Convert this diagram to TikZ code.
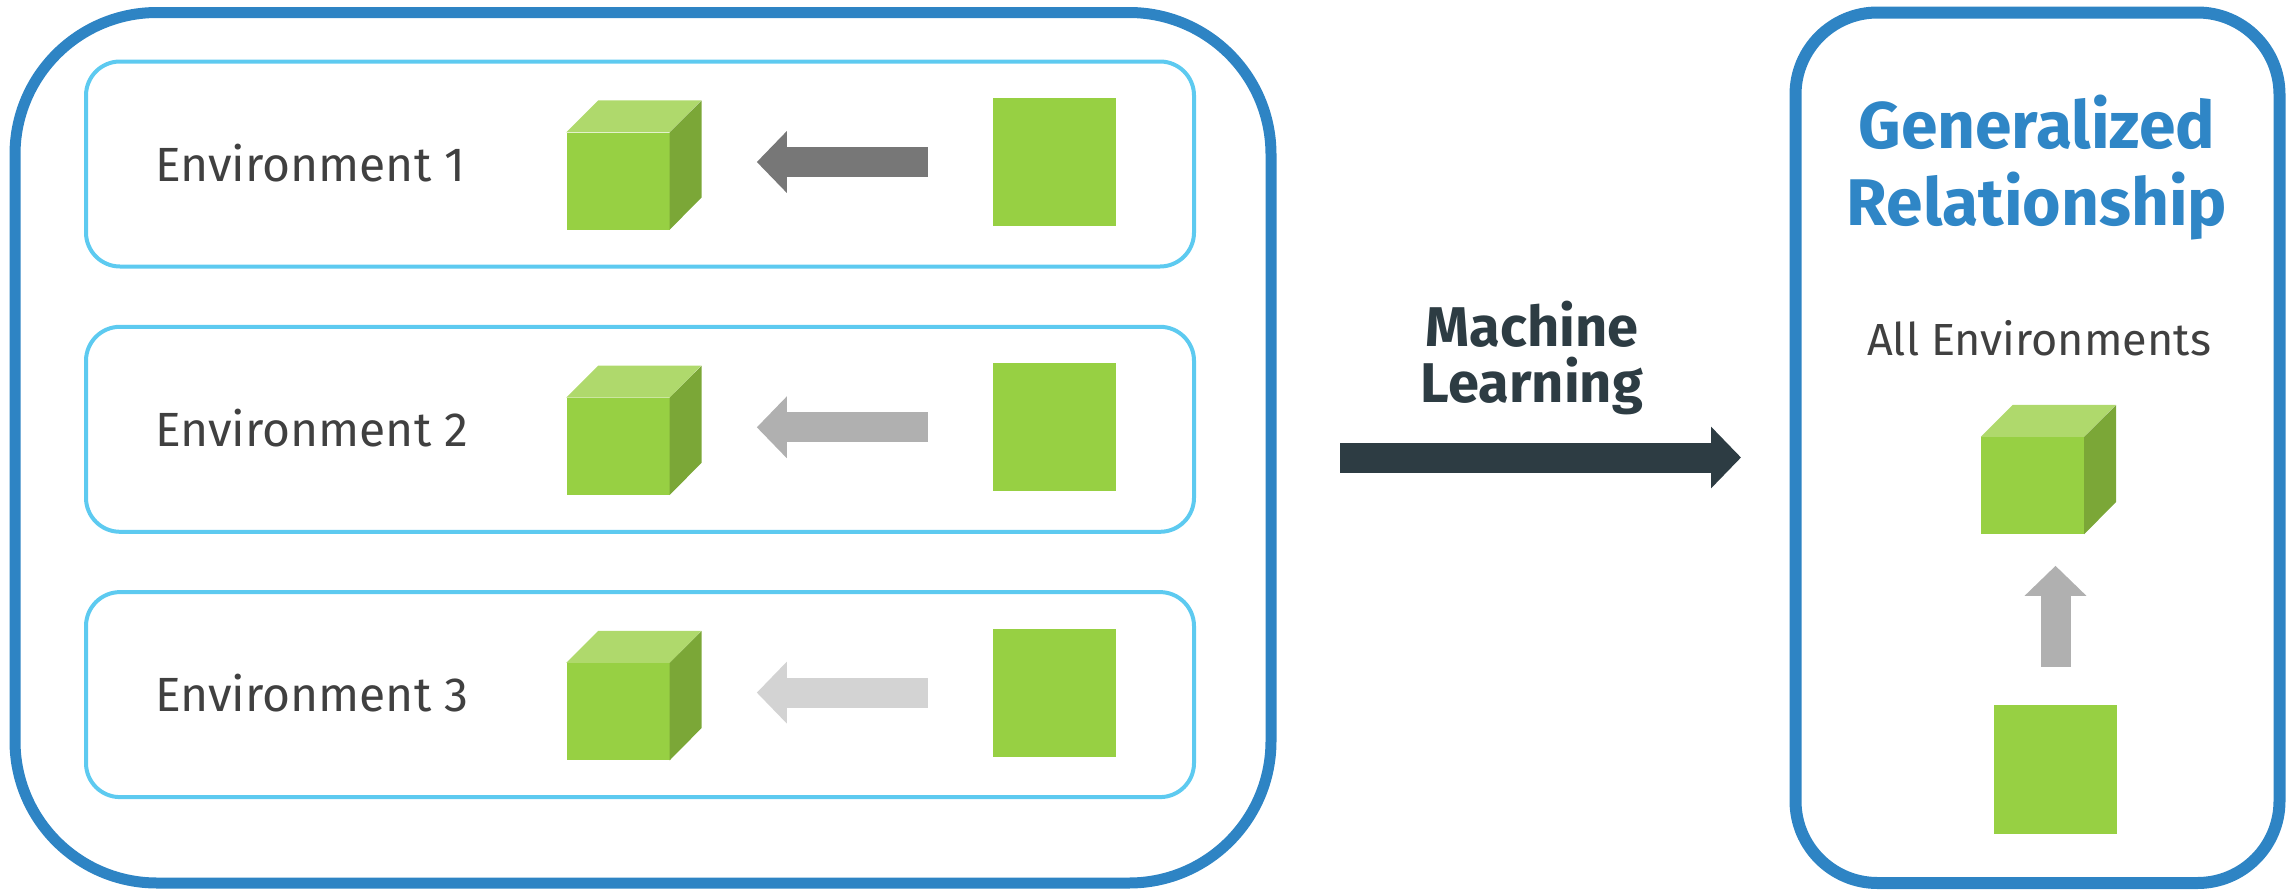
\documentclass[tikz,border=0pt]{standalone}
\usepackage{fontspec}
\setmainfont{Fira Sans}
\usetikzlibrary{arrows.meta,calc}
\definecolor{outerblue}{HTML}{2E84C4}
\definecolor{envblue}{HTML}{5DCAF0}
\definecolor{gfront}{HTML}{97D043}
\definecolor{gtop}{HTML}{AFD96C}
\definecolor{gside}{HTML}{7BA737}
\definecolor{arrA}{HTML}{777777}
\definecolor{arrB}{HTML}{B0B0B0}
\definecolor{arrC}{HTML}{D3D3D3}
\definecolor{slate}{HTML}{2D3C43}
\definecolor{txtgray}{HTML}{404040}
\definecolor{titleblue}{HTML}{2F86C6}
\begin{document}
\begin{tikzpicture}[x=1pt,y=-1pt,
  bigbox/.style={draw=outerblue, line width=11pt, inner sep=0pt, minimum height=870.5pt},
  envbox/.style={draw=envblue, line width=4pt, rounded corners=34pt, inner sep=0pt, minimum width=1108pt, minimum height=205pt},
  front/.style={fill=gfront, inner sep=0pt, minimum width=103pt, minimum height=97pt},
  sqbox/.style={fill=gfront, inner sep=0pt, minimum width=123pt, minimum height=128pt},
  blockarrow/.style={line width=30pt, -{Triangle[length=30pt,width=60pt]}},
  envtext/.style={anchor=base west, inner sep=0pt, text=txtgray, font=\fontsize{48}{58}\selectfont}
]
\path[use as bounding box] (0,0) rectangle (2292,889);

% containers
\node[bigbox, rounded corners=142pt, minimum width=1256pt] (left) at (643,447.75) {};
\node[bigbox, line width=12pt, rounded corners=82pt, minimum width=484pt] (right) at (2037.5,447.75) {};

% environment rows
\foreach \k/\c/\col in {1/164/arrA, 2/429.3/arrB, 3/694.6/arrC}{
  \node[envbox] (env\k) at (640,\c) {};
  \node[envtext] (lab\k) at (155,\c+17) {Environment \k};
  \node[front] (cube\k) at (618,\c+17) {};
  \fill[gtop] (cube\k.north west) -- ++(32,-32) -- ++(103,0) -- (cube\k.north east) -- cycle;
  \fill[gside] (cube\k.north east) -- ++(32,-32) -- ++(0,97) -- (cube\k.south east) -- cycle;
  \node[sqbox] (sq\k) at (1054.5,\c-2) {};
  \draw[blockarrow, draw=\col, fill=\col] ($(sq\k.west)+(-65,0)$) -- ($(sq\k.west)+(-236,0)$);
}

% machine learning arrow
\node[anchor=base, align=center, inner sep=0pt, text=slate, font=\bfseries\fontsize{56}{56}\selectfont] (ml) at (1532,402) {Machine\\Learning};
\draw[blockarrow, draw=slate, fill=slate] ($(left.east)+(63.5,9.75)$) -- ($(right.west)+(-48.5,9.75)$);

% right panel
\node[anchor=base, align=center, inner sep=0pt, text=titleblue, font=\bfseries\fontsize{66}{77}\selectfont] (title) at (2037,225) {Generalized\\Relationship};
\node[anchor=base, inner sep=0pt, text=txtgray, font=\fontsize{45}{54}\selectfont] (allenv) at (2039,355) {All Environments};
\node[front] (rcube) at (2032.5,485.5) {};
\fill[gtop] (rcube.north west) -- ++(32,-32) -- ++(103,0) -- (rcube.north east) -- cycle;
\fill[gside] (rcube.north east) -- ++(32,-32) -- ++(0,97) -- (rcube.south east) -- cycle;
\node[sqbox, minimum height=129pt] (rsq) at (2055.5,769.5) {};
\draw[blockarrow, draw=arrB, fill=arrB] ($(rsq.north)+(0,-38)$) -- ($(rsq.north)+(0,-139)$);
\end{tikzpicture}
\end{document}
